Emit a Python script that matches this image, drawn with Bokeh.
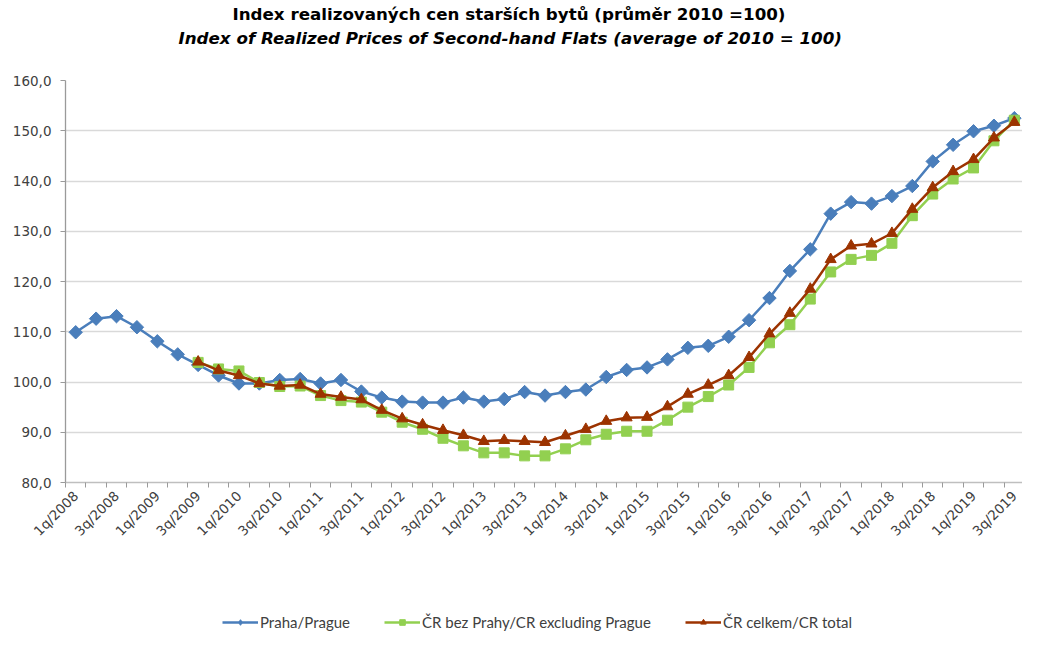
from math import pi
from bokeh.plotting import figure
from bokeh.layouts import column
from bokeh.models import Range1d, FixedTicker, Title, Legend, LegendItem, ColumnDataSource
from bokeh.embed import file_html
from bokeh.resources import INLINE

nan = float("nan")

quarters = ["1q/2008", "2q/2008", "3q/2008", "4q/2008",
            "1q/2009", "2q/2009", "3q/2009", "4q/2009",
            "1q/2010", "2q/2010", "3q/2010", "4q/2010",
            "1q/2011", "2q/2011", "3q/2011", "4q/2011",
            "1q/2012", "2q/2012", "3q/2012", "4q/2012",
            "1q/2013", "2q/2013", "3q/2013", "4q/2013",
            "1q/2014", "2q/2014", "3q/2014", "4q/2014",
            "1q/2015", "2q/2015", "3q/2015", "4q/2015",
            "1q/2016", "2q/2016", "3q/2016", "4q/2016",
            "1q/2017", "2q/2017", "3q/2017", "4q/2017",
            "1q/2018", "2q/2018", "3q/2018", "4q/2018",
            "1q/2019", "2q/2019", "3q/2019"]

praha = [109.9, 112.6, 113.1, 110.9, 108.1, 105.5, 103.4, 101.3,
         99.7, 99.7, 100.4, 100.6, 99.7, 100.4, 98.1, 96.9,
         96.1, 95.9, 95.9, 96.9, 96.1, 96.6, 98.0, 97.3,
         98.0, 98.5, 101.0, 102.4, 102.9, 104.5, 106.8, 107.2,
         109.0, 112.3, 116.7, 122.1, 126.4, 133.5, 135.8, 135.5,
         137.0, 139.0, 143.9, 147.2, 149.9, 151.0, 152.5]

bez_prahy = [nan, nan, nan, nan, nan, nan, 103.9, 102.6,
             102.2, 99.9, 99.1, 99.2, 97.3, 96.3, 96.0, 94.0,
             92.0, 90.6, 88.8, 87.3, 85.9, 85.9, 85.3, 85.3,
             86.7, 88.5, 89.6, 90.2, 90.2, 92.4, 95.0, 97.1,
             99.4, 102.9, 107.8, 111.4, 116.5, 121.9, 124.4, 125.2,
             127.6, 133.1, 137.4, 140.4, 142.6, 148.0, 152.1]

celkem = [nan, nan, nan, nan, nan, nan, 104.0, 102.3,
          101.3, 99.7, 99.2, 99.4, 97.6, 97.0, 96.5, 94.4,
          92.7, 91.5, 90.4, 89.4, 88.2, 88.4, 88.2, 88.0,
          89.3, 90.6, 92.2, 92.9, 93.0, 95.1, 97.6, 99.4,
          101.3, 104.9, 109.6, 113.7, 118.5, 124.4, 127.1, 127.5,
          129.6, 134.4, 138.7, 141.9, 144.3, 148.6, 151.7]

y_ticks = [80, 90, 100, 110, 120, 130, 140, 150, 160]
y_tick_labels = ["80,0", "90,0", "100,0", "110,0", "120,0", "130,0", "140,0", "150,0", "160,0"]

series_names = ["Praha/Prague", "ČR bez Prahy/CR excluding Prague", "ČR celkem/CR total"]
title_cz = "Index realizovaných cen starších bytů (průměr 2010 =100)"
title_en = "Index of Realized Prices of Second-hand Flats (average of 2010 = 100)"

BLUE = "#4A7EBB"
GREEN = "#92D050"
RED = "#9C3300"

idx = list(range(len(quarters)))
src = ColumnDataSource(dict(x=idx, praha=praha, bez=bez_prahy, celkem=celkem))

p = figure(width=1022, height=560, output_backend="svg", toolbar_location=None,
           x_range=Range1d(-0.5, 46.4), y_range=Range1d(80, 160),
           min_border_left=65, min_border_right=0, min_border_top=0, min_border_bottom=78)
p.outline_line_color = None
p.background_fill_color = "white"
p.border_fill_color = "white"

p.xgrid.visible = False
p.ygrid.grid_line_color = "#D9D9D9"
p.ygrid.grid_line_width = 1.3
p.ygrid.ticker = FixedTicker(ticks=y_ticks)

# x axis
xa = p.xaxis[0]
xa.ticker = FixedTicker(ticks=idx[::2], minor_ticks=[i - 0.5 for i in range(len(quarters) + 1)])
xa.major_label_overrides = {i: quarters[i] for i in idx[::2]}
xa.major_label_orientation = pi / 4
xa.major_tick_line_color = None
xa.major_tick_out = 0
xa.major_tick_in = 0
xa.minor_tick_line_color = "#9A9A9A"
xa.minor_tick_out = 5
xa.minor_tick_in = 0
xa.axis_line_color = "#BFBFBF"
xa.axis_line_width = 1.3
xa.major_label_text_font = "DejaVu Sans"
xa.major_label_text_font_size = "13.5px"
xa.major_label_text_color = "#404040"
xa.major_label_standoff = 6

# y axis
ya = p.yaxis[0]
ya.ticker = FixedTicker(ticks=y_ticks)
ya.major_label_overrides = {t: l for t, l in zip(y_ticks, y_tick_labels)}
ya.major_tick_out = 5
ya.major_tick_in = 0
ya.major_tick_line_color = "#9A9A9A"
ya.minor_tick_line_color = None
ya.axis_line_color = "#9A9A9A"
ya.axis_line_width = 1.3
ya.major_label_text_font = "DejaVu Sans"
ya.major_label_text_font_size = "13.5px"
ya.major_label_text_color = "#404040"
ya.major_label_standoff = 9

# series: blue first, then green, then red on top
p.line("x", "praha", source=src, color=BLUE, line_width=2.5)
p.scatter("x", "praha", source=src, marker="square", angle=pi / 4, size=9.5, color=BLUE)
p.line("x", "bez", source=src, color=GREEN, line_width=2.5)
p.scatter("x", "bez", source=src, marker="square", size=10, color=GREEN)
p.line("x", "celkem", source=src, color=RED, line_width=2.5)
p.scatter("x", "celkem", source=src, marker="triangle", size=11, color=RED)

# titles: spacer next to the plot, then the English line, p.title outermost
p.add_layout(Title(text=" ", text_font_size="1px", standoff=30), "above")
p.add_layout(Title(text=title_en, align="left", offset=113, standoff=0,
                   text_font="DejaVu Sans", text_font_size="16.7px",
                   text_font_style="bold italic", text_color="#000000"), "above")
p.title.text = title_cz
p.title.align = "left"
p.title.offset = 167
p.title.standoff = 3
p.title.text_font = "DejaVu Sans"
p.title.text_font_size = "16.7px"
p.title.text_font_style = "bold"
p.title.text_color = "#000000"

# legend strip (separate small svg figure below the chart)
pl = figure(width=1022, height=72, output_backend="svg", toolbar_location=None,
            x_range=Range1d(0, 1), y_range=Range1d(0, 1),
            x_axis_type=None, y_axis_type=None,
            min_border_left=0, min_border_right=0, min_border_top=0, min_border_bottom=0)
pl.outline_line_color = None
pl.xgrid.visible = False
pl.ygrid.visible = False
blank = ColumnDataSource(dict(x=[nan], y=[nan]))
k1 = pl.line("x", "y", source=blank, color=BLUE, line_width=2.5)
d1 = pl.scatter("x", "y", source=blank, marker="diamond", size=11, color=BLUE)
k2 = pl.line("x", "y", source=blank, color=GREEN, line_width=2.5)
d2 = pl.scatter("x", "y", source=blank, marker="square", size=9, color=GREEN)
k3 = pl.line("x", "y", source=blank, color=RED, line_width=2.5)
d3 = pl.scatter("x", "y", source=blank, marker="triangle", size=10, color=RED)

legend = Legend(items=[LegendItem(label=series_names[0], renderers=[k1, d1]),
                       LegendItem(label=series_names[1], renderers=[k2, d2]),
                       LegendItem(label=series_names[2], renderers=[k3, d3])],
                orientation="horizontal", location=(157, 1),
                border_line_color=None, background_fill_alpha=0,
                label_text_font="Lato", label_text_font_size="15px",
                label_text_color="#404040", glyph_width=36, glyph_height=14,
                spacing=34, padding=0, margin=0, label_standoff=2)
pl.add_layout(legend, "center")

open("out.html", "w").write(file_html(column(p, pl, spacing=0), INLINE))
